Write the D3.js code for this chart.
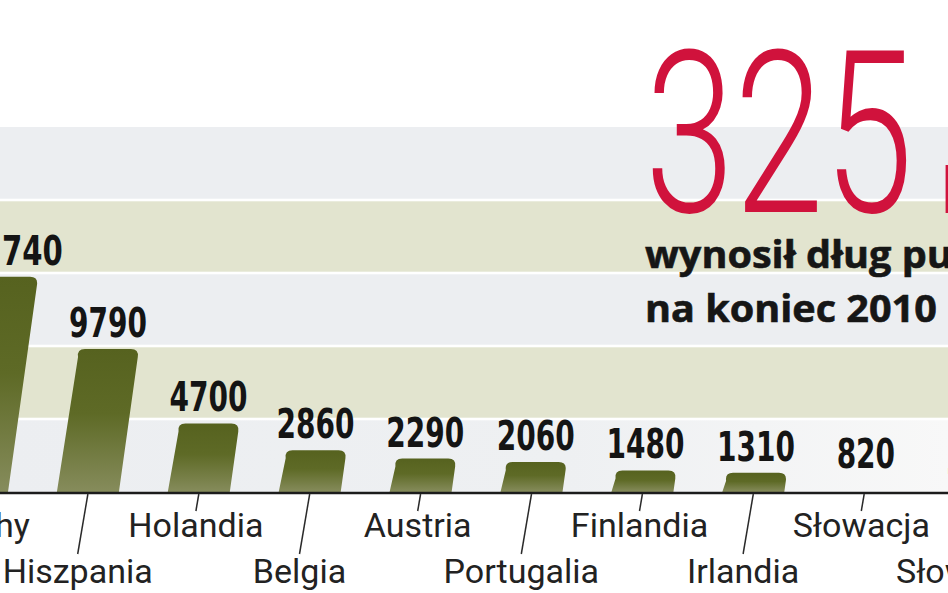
<!DOCTYPE html>
<html>
<head>
<meta charset="utf-8">
<script src="https://cdn.jsdelivr.net/npm/d3@7"></script>
<style>
  html, body { margin: 0; padding: 0; background: #ffffff; overflow: hidden; }
  svg { display: block; }
</style>
</head>
<body>
<svg id="chart" width="948" height="593"></svg>
<script>
// ---- data ----
const categories = ["Włochy", "Hiszpania", "Holandia", "Belgia", "Austria", "Portugalia", "Finlandia", "Irlandia", "Słowacja", "Słowenia"];
const values     = [14740, 9790, 4700, 2860, 2290, 2060, 1480, 1310, 820, 320];
const noBar      = ["Słowacja", "Słowenia"];          // reference shows only the value, no bar
const gridTicks  = [0, 5000, 10000, 15000, 20000, 25000];
const headlineNumber = "325";
const headlineUnit   = "mld euro";
const subtitleLines  = ["wynosił dług publiczny", "na koniec 2010 r."];

// ---- layout ----
const W = 948, H = 593;
const axisY = 492;
const svg = d3.select("#chart");

const x = d3.scalePoint().domain(categories).range([-23, -23 + 110.9 * (categories.length - 1)]);
const y = d3.scaleLinear().domain([0, 25000]).range([axisY, 127]);
const barW = 62, slant = 0.14, radius = 8;

const fmt = v => v >= 10000 ? d3.format(",")(v).replace(/,/g, " ") : String(v);

// defs: gradients
const defs = svg.append("defs");
const g = defs.append("linearGradient").attr("id", "barGrad")
  .attr("x1", 0).attr("y1", 0).attr("x2", 0).attr("y2", 1);
g.append("stop").attr("offset", "0").attr("stop-color", "#56621f");
g.append("stop").attr("offset", "0.45").attr("stop-color", "#5e6a26");
g.append("stop").attr("offset", "1").attr("stop-color", "#868c5c");

const fade = defs.append("linearGradient").attr("id", "bandFade")
  .attr("gradientUnits", "userSpaceOnUse")
  .attr("x1", 0).attr("y1", 0).attr("x2", W).attr("y2", 0);
fade.append("stop").attr("offset", "0").attr("stop-color", "#eceef1");
fade.append("stop").attr("offset", "0.6").attr("stop-color", "#eef0f2");
fade.append("stop").attr("offset", "1").attr("stop-color", "#f8f8f8");

// background bands (grid stripes)
const bandColors = ["#eceef1", "#e2e4cf"];
const bands = d3.range(gridTicks.length - 1).map(i => ({ lo: gridTicks[i], hi: gridTicks[i + 1], i }));
svg.append("g").selectAll("rect").data(bands).join("rect")
  .attr("x", 0).attr("width", W)
  .attr("y", d => y(d.hi) + (d.i === bands.length - 1 ? 0 : 1.3))
  .attr("height", d => (y(d.lo) - (d.i === 0 ? 0 : 1.3)) - (y(d.hi) + (d.i === bands.length - 1 ? 0 : 1.3)))
  .attr("fill", d => d.i === 0 ? "url(#bandFade)" : bandColors[d.i % 2]);

// headline (big red number)
const head = svg.append("g");
head.append("text")
  .attr("x", 645).attr("y", 212)
  .attr("textLength", 268).attr("lengthAdjust", "spacingAndGlyphs")
  .style("font-family", "Roboto, 'Open Sans', sans-serif")
  .style("font-weight", 300)
  .style("font-size", "226px")
  .attr("fill", "#d0123c")
  .text(headlineNumber);
head.append("text")
  .attr("x", 939).attr("y", 213)
  .style("font-family", "Roboto, 'Open Sans', sans-serif")
  .style("font-weight", 300)
  .style("font-size", "90px")
  .attr("fill", "#d0123c")
  .text(headlineUnit);
head.append("g").attr("transform", "translate(645,0) scale(1.07,1)")
  .selectAll("text").data(subtitleLines).join("text")
  .attr("x", 0).attr("y", (d, i) => 268 + i * 54)
  .style("font-family", "'Open Sans', sans-serif")
  .style("font-weight", 700)
  .style("font-size", "37px")
  .attr("fill", "#161616")
  .attr("stroke", "#161616").attr("stroke-width", 0.6)
  .text(d => d);

// bars
const data = categories.map((c, i) => ({ c, v: values[i], i }));
function barPath(d) {
  const cx = x(d.c), y0 = axisY, y1 = y(d.v), h = y0 - y1;
  const s = slant * h;
  const l0 = cx - barW / 2, r0 = cx + barW / 2;
  const l1 = l0 + s, r1 = r0 + s;
  const r = Math.min(radius, h / 2);
  return `M${l0},${y0} L${r0},${y0} L${r1 - slant * r},${y1 + r} Q${r1},${y1} ${r1 - r},${y1} L${l1 + r},${y1} Q${l1},${y1} ${l1 + slant * r},${y1 + r} Z`;
}
svg.append("g").selectAll("path").data(data.filter(d => !noBar.includes(d.c))).join("path")
  .attr("d", barPath)
  .attr("fill", "url(#barGrad)");

// value labels (condensed bold)
const labelWidth = s => s.replace(/ /g, "").length * 19.5 + (s.split(" ").length - 1) * 14;
svg.append("g").selectAll("text").data(data).join("text")
  .attr("x", d => x(d.c) + slant * (axisY - y(d.v)) - labelWidth(fmt(d.v)) / 2)
  .attr("y", d => y(d.v) - 12)
  .attr("textLength", d => labelWidth(fmt(d.v)))
  .attr("lengthAdjust", "spacingAndGlyphs")
  .style("font-family", "'DejaVu Sans Condensed', 'DejaVu Sans', sans-serif")
  .style("font-weight", 700)
  .style("font-size", "40px")
  .attr("fill", "#141414")
  .text(d => fmt(d.v));

// axis line
svg.append("line")
  .attr("x1", 0).attr("x2", W).attr("y1", axisY + 1).attr("y2", axisY + 1)
  .attr("stroke", "#1c1c1c").attr("stroke-width", 2.5);

// leader lines and category labels (alternating rows)
const lead = [17, 60], leadSlant = 0.17, labelY = [537, 583];
const lab = svg.append("g");
lab.selectAll("line").data(data).join("line")
  .attr("x1", d => x(d.c)).attr("y1", axisY + 2)
  .attr("x2", d => x(d.c) - leadSlant * lead[d.i % 2]).attr("y2", d => axisY + 2 + lead[d.i % 2])
  .attr("stroke", "#2a2a2a").attr("stroke-width", 1.5);
lab.selectAll("text").data(data).join("text")
  .attr("x", d => x(d.c) - leadSlant * lead[d.i % 2])
  .attr("y", d => labelY[d.i % 2])
  .attr("text-anchor", "middle")
  .style("font-family", "Roboto, sans-serif")
  .style("font-size", "34px")
  .attr("fill", "#222")
  .text(d => d.c);
</script>
</body>
</html>
